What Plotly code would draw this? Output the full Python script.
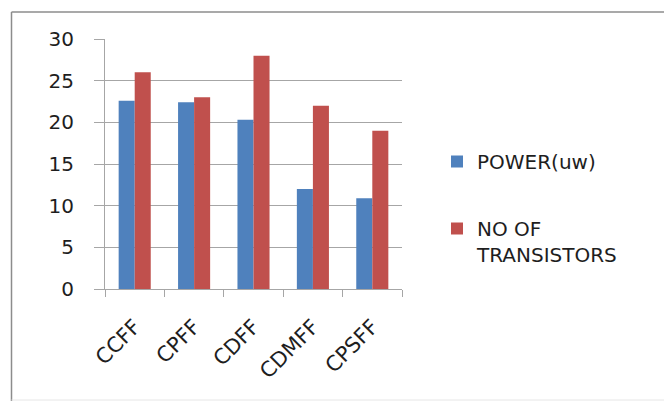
import plotly.graph_objects as go

categories = ["CCFF", "CPFF", "CDFF", "CDMFF", "CPSFF"]
power_uw = [22.6, 22.4, 20.3, 12.0, 10.9]
transistors = [26, 23, 28, 22, 19]
series_names = ["POWER(uw)", "NO OF<br>TRANSISTORS"]
y_ticks = [0, 5, 10, 15, 20, 25, 30]

W, H = 664, 406
L, R, T, B = 105, 262, 39, 117
pw, ph = W - L - R, H - T - B

def px_x(p):
    return (p - L) / pw

def px_y(p):
    return (H - B - p) / ph

FONT = "DejaVu Sans"
TXT = "#1e1e1e"
GRID = "#a6a6a6"

fig = go.Figure()
fig.add_trace(go.Bar(x=categories, y=power_uw, name=series_names[0],
                     marker=dict(color="#4F81BD", line=dict(width=0)),
                     legendgroup="a"))
fig.add_trace(go.Bar(x=categories, y=transistors, name=series_names[1],
                     marker=dict(color="#C0504D", line=dict(width=0)),
                     legendgroup="b"))

# chart frame (left and top edges, faint bottom)
fig.add_shape(type="line", xref="paper", yref="paper",
              x0=px_x(11.5), x1=px_x(11.5), y0=px_y(12), y1=px_y(401),
              line=dict(color="#8c8c8c", width=1.5))
fig.add_shape(type="line", xref="paper", yref="paper",
              x0=px_x(11.5), x1=px_x(680), y0=px_y(12), y1=px_y(12),
              line=dict(color="#8c8c8c", width=1.5))
fig.add_shape(type="line", xref="paper", yref="paper",
              x0=px_x(11.5), x1=px_x(680), y0=px_y(400), y1=px_y(400),
              line=dict(color="#e6e6e6", width=1))

fig.update_layout(
    width=W, height=H,
    margin=dict(l=L, r=R, t=T, b=B),
    paper_bgcolor="white", plot_bgcolor="white",
    barmode="group", bargap=0.46, bargroupgap=0,
    font=dict(family=FONT, size=20, color=TXT),
    showlegend=True,
    legend=dict(x=px_x(437), y=px_y(142), xanchor="left", yanchor="top",
                font=dict(family=FONT, size=20, color=TXT),
                tracegroupgap=38, traceorder="grouped", valign="top",
                bgcolor="rgba(0,0,0,0)"),
    xaxis=dict(type="category", showline=True, linecolor=GRID, linewidth=1,
               ticks="outside", tickson="boundaries", ticklen=7,
               tickcolor=GRID, tickangle=-45, ticklabelstandoff=16,
               showgrid=False, tickfont=dict(family=FONT, size=21, color=TXT)),
    yaxis=dict(range=[0, 30], tickvals=y_ticks, showline=True, linecolor=GRID,
               linewidth=1, ticks="outside", ticklen=10, tickcolor=GRID,
               showgrid=True, gridcolor=GRID, gridwidth=1, zeroline=False,
               ticklabelstandoff=16,
               tickfont=dict(family=FONT, size=20, color=TXT)),
)

fig.write_html("out.html")
